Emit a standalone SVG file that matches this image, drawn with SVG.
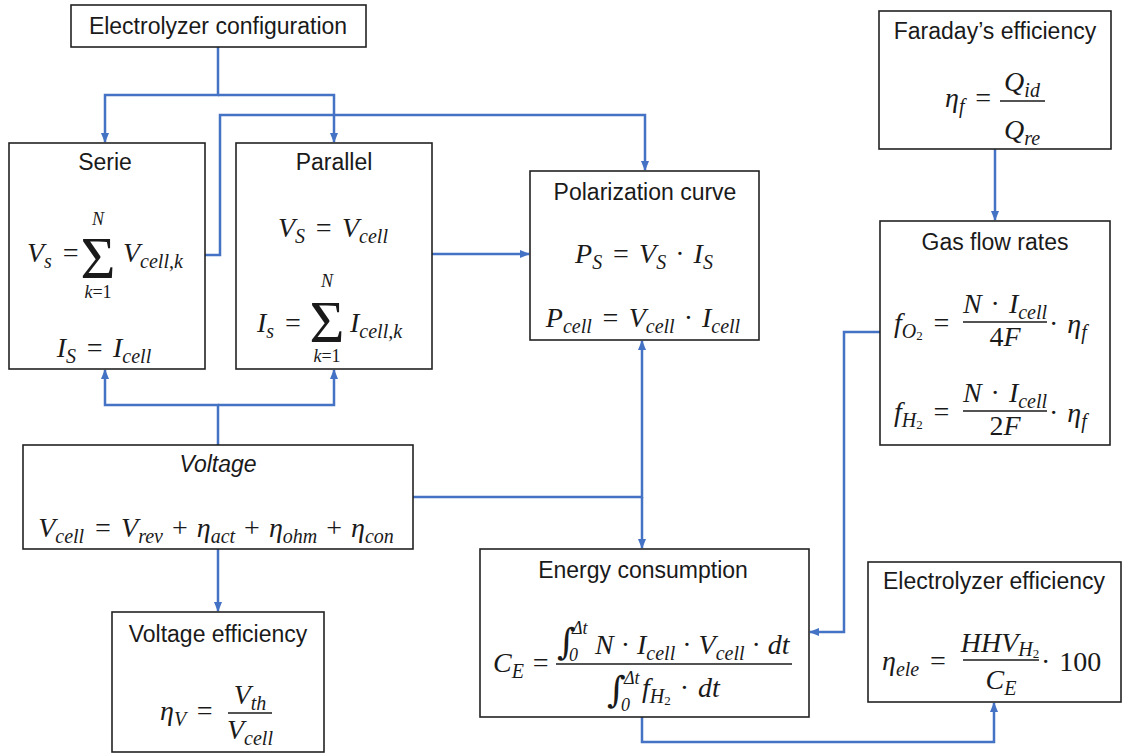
<svg xmlns="http://www.w3.org/2000/svg" width="1123" height="755" viewBox="0 0 1123 755">
<style>
.box{fill:#fff;stroke:#222;stroke-width:1.6}
.t{font-family:"Liberation Sans",Arial,sans-serif;font-size:23px;fill:#1a1a1a;text-anchor:middle}
.ti{font-style:italic}
.m{font-family:"Liberation Serif","DejaVu Serif",serif;font-style:italic;font-size:28px;fill:#1a1a1a;word-spacing:2px}
.nw{word-spacing:0}
.s{font-size:20px;word-spacing:0}
.ss{font-size:13px;font-style:normal}
.up{font-style:normal}
.sig{font-family:"Liberation Serif","DejaVu Serif",serif;font-size:60px;fill:#1a1a1a;text-anchor:middle}
.int{font-family:"DejaVu Serif",serif;font-size:36px;fill:#1a1a1a}
.ms{font-family:"Liberation Serif","DejaVu Serif",serif;font-style:italic;font-size:18px;fill:#1a1a1a}
.bar{stroke:#1a1a1a;stroke-width:1.3}
.c{fill:none;stroke:#4472C4;stroke-width:2.5}
</style>
<defs>
<marker id="a" markerUnits="userSpaceOnUse" markerWidth="10" markerHeight="10" viewBox="0 0 10 10" refX="9" refY="5" orient="auto">
<path d="M0,1 L10,5 L0,9 Z" fill="#4472C4"/>
</marker>
</defs>

<g id="connectors">
<path class="c" d="M218,47 V95 H105 V142" marker-end="url(#a)"/>
<path class="c" d="M218,95 H334 V142" marker-end="url(#a)"/>
<path class="c" d="M205,255 H220 V115 H645 V170" marker-end="url(#a)"/>
<path class="c" d="M432,254 H529" marker-end="url(#a)"/>
<path class="c" d="M218,445 V405 H105 V370" marker-end="url(#a)"/>
<path class="c" d="M218,405 H334 V370" marker-end="url(#a)"/>
<path class="c" d="M413,497 H642 V341" marker-end="url(#a)"/>
<path class="c" d="M642,497 V548" marker-end="url(#a)"/>
<path class="c" d="M218,549 V611" marker-end="url(#a)"/>
<path class="c" d="M995,149 V220" marker-end="url(#a)"/>
<path class="c" d="M880,332 H844 V632 H810" marker-end="url(#a)"/>
<path class="c" d="M642,717 V742 H994 V703" marker-end="url(#a)"/>
</g>

<g id="config">
<rect class="box" x="71" y="5" width="295" height="42"/>
<text class="t" x="218" y="34">Electrolyzer configuration</text>
</g>

<g id="serie">
<rect class="box" x="9" y="143" width="196" height="226"/>
<text class="t" x="105" y="170">Serie</text>
<text class="m" x="27" y="262">V<tspan class="s" dy="6">s</tspan><tspan dy="-6"> =</tspan></text>
<text class="sig" x="98" y="278">Σ</text>
<text class="ms" x="98" y="225" text-anchor="middle">N</text>
<text class="ms" x="98" y="298" text-anchor="middle">k<tspan class="up">=1</tspan></text>
<text class="m" x="123" y="262">V<tspan class="s" dy="6">cell,k</tspan></text>
<text class="m" x="104" y="357" text-anchor="middle">I<tspan class="s" dy="6">S</tspan><tspan dy="-6"> = I</tspan><tspan class="s" dy="6">cell</tspan></text>
</g>

<g id="parallel">
<rect class="box" x="236" y="143" width="196" height="226"/>
<text class="t" x="334" y="170">Parallel</text>
<text class="m" x="333" y="237" text-anchor="middle">V<tspan class="s" dy="6">S</tspan><tspan dy="-6"> = V</tspan><tspan class="s" dy="6">cell</tspan></text>
<text class="m" x="257" y="332">I<tspan class="s" dy="6">s</tspan><tspan dy="-6"> =</tspan></text>
<text class="sig" x="327" y="342">Σ</text>
<text class="ms" x="327" y="287" text-anchor="middle">N</text>
<text class="ms" x="327" y="362" text-anchor="middle">k<tspan class="up">=1</tspan></text>
<text class="m" x="350" y="332">I<tspan class="s" dy="6">cell,k</tspan></text>
</g>

<g id="polarization">
<rect class="box" x="530" y="171" width="229" height="169"/>
<text class="t" x="645" y="200">Polarization curve</text>
<text class="m" x="644" y="263" text-anchor="middle">P<tspan class="s" dy="6">S</tspan><tspan dy="-6"> = V</tspan><tspan class="s" dy="6">S</tspan><tspan dy="-6" class="up"> · </tspan><tspan>I</tspan><tspan class="s" dy="6">S</tspan></text>
<text class="m" x="643" y="327" text-anchor="middle">P<tspan class="s" dy="6">cell</tspan><tspan dy="-6"> = V</tspan><tspan class="s" dy="6">cell</tspan><tspan dy="-6" class="up"> · </tspan><tspan>I</tspan><tspan class="s" dy="6">cell</tspan></text>
</g>

<g id="faraday">
<rect class="box" x="879" y="11" width="232" height="138"/>
<text class="t" x="995" y="39">Faraday’s efficiency</text>
<text class="m" x="945" y="107">η<tspan class="s" dy="6">f</tspan><tspan dy="-6"> =</tspan></text>
<line class="bar" x1="1000" y1="101" x2="1045" y2="101"/>
<text class="m" x="1022" y="91" text-anchor="middle">Q<tspan class="s" dy="6">id</tspan></text>
<text class="m" x="1022" y="139" text-anchor="middle">Q<tspan class="s" dy="6">re</tspan></text>
</g>

<g id="gasflow">
<rect class="box" x="880" y="221" width="230" height="224"/>
<text class="t" x="995" y="250">Gas flow rates</text>
<text class="m" x="894" y="332">f<tspan class="s" dy="6">O</tspan><tspan class="ss" dy="2">2</tspan><tspan dy="-8"> =</tspan></text>
<line class="bar" x1="963" y1="322" x2="1047" y2="322"/>
<text class="m" x="1005" y="313" text-anchor="middle">N<tspan class="up"> · </tspan>I<tspan class="s" dy="6">cell</tspan></text>
<text class="m" x="1005" y="346" text-anchor="middle"><tspan class="up">4</tspan>F</text>
<text class="m" x="1049" y="333"><tspan class="up">· </tspan>η<tspan class="s" dy="6">f</tspan></text>
<text class="m" x="894" y="421">f<tspan class="s" dy="6">H</tspan><tspan class="ss" dy="2">2</tspan><tspan dy="-8"> =</tspan></text>
<line class="bar" x1="963" y1="411" x2="1047" y2="411"/>
<text class="m" x="1005" y="402" text-anchor="middle">N<tspan class="up"> · </tspan>I<tspan class="s" dy="6">cell</tspan></text>
<text class="m" x="1005" y="435" text-anchor="middle"><tspan class="up">2</tspan>F</text>
<text class="m" x="1049" y="422"><tspan class="up">· </tspan>η<tspan class="s" dy="6">f</tspan></text>
</g>

<g id="voltage">
<rect class="box" x="23" y="445" width="390" height="104"/>
<text class="t ti" x="218" y="472">Voltage</text>
<text class="m" x="216" y="537" text-anchor="middle">V<tspan class="s" dy="6">cell</tspan><tspan dy="-6"> = V</tspan><tspan class="s" dy="6">rev</tspan><tspan dy="-6" class="up"> + </tspan><tspan>η</tspan><tspan class="s" dy="6">act</tspan><tspan dy="-6" class="up"> + </tspan><tspan>η</tspan><tspan class="s" dy="6">ohm</tspan><tspan dy="-6" class="up"> + </tspan><tspan>η</tspan><tspan class="s" dy="6">con</tspan></text>
</g>

<g id="voltage-efficiency">
<rect class="box" x="112" y="612" width="212" height="140"/>
<text class="t" x="218" y="642">Voltage efficiency</text>
<text class="m" x="160" y="720">η<tspan class="s" dy="6">V</tspan><tspan dy="-6"> =</tspan></text>
<line class="bar" x1="228" y1="713" x2="272" y2="713"/>
<text class="m" x="250" y="704" text-anchor="middle">V<tspan class="s" dy="6">th</tspan></text>
<text class="m" x="250" y="739" text-anchor="middle">V<tspan class="s" dy="6">cell</tspan></text>
</g>

<g id="energy">
<rect class="box" x="480" y="549" width="329" height="168"/>
<text class="t" x="643" y="578">Energy consumption</text>
<text class="m nw" x="493" y="672">C<tspan class="s" dy="6">E</tspan><tspan dy="-6"> =</tspan></text>
<line class="bar" x1="556" y1="664" x2="792" y2="664"/>
<text class="int" x="557" y="654">∫</text>
<text class="ms" x="572" y="634" font-style="normal">Δ<tspan font-style="italic">t</tspan></text>
<text class="ms up" x="569" y="661">0</text>
<text class="m nw" x="595" y="654">N<tspan class="up"> · </tspan>I<tspan class="s" dy="6">cell</tspan><tspan dy="-6" class="up"> · </tspan><tspan>V</tspan><tspan class="s" dy="6">cell</tspan><tspan dy="-6" class="up"> · </tspan><tspan>dt</tspan></text>
<text class="int" x="607" y="702">∫</text>
<text class="ms" x="624" y="684" font-style="normal">Δ<tspan font-style="italic">t</tspan></text>
<text class="ms up" x="621" y="711">0</text>
<text class="m" x="642" y="697">f<tspan class="s" dy="6">H</tspan><tspan class="ss" dy="2">2</tspan><tspan dy="-8" class="up"> · </tspan><tspan>dt</tspan></text>
</g>

<g id="electrolyzer-efficiency">
<rect class="box" x="868" y="562" width="253" height="140"/>
<text class="t" x="994" y="589">Electrolyzer efficiency</text>
<text class="m" x="882" y="670">η<tspan class="s" dy="6">ele</tspan><tspan dy="-6"> =</tspan></text>
<line class="bar" x1="963" y1="660" x2="1039" y2="660"/>
<text class="m" x="1000" y="652" text-anchor="middle">HHV<tspan class="s" dy="4">H</tspan><tspan class="ss" dy="2">2</tspan></text>
<text class="m" x="1001" y="689" text-anchor="middle">C<tspan class="s" dy="6">E</tspan></text>
<text class="m up" x="1041" y="671">· 100</text>
</g>
</svg>
